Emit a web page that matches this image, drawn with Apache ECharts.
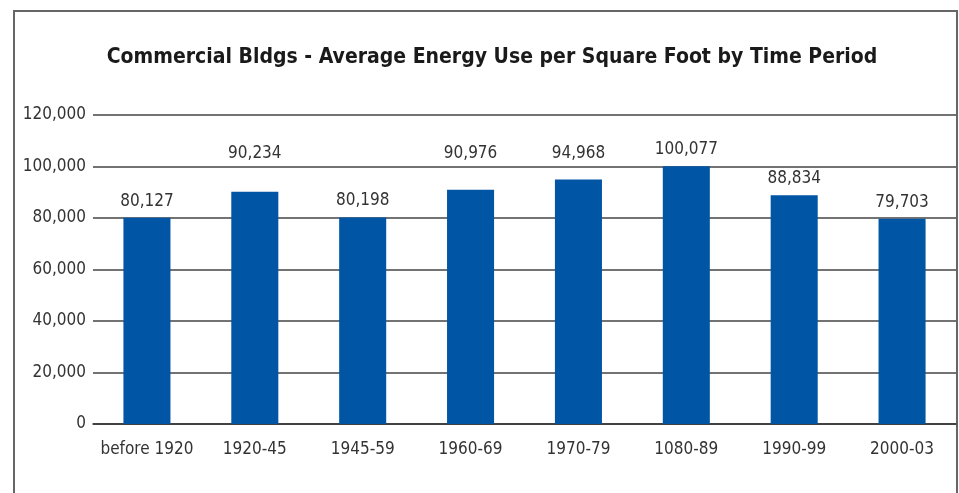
<!DOCTYPE html>
<html><head><meta charset="utf-8">
<script src="https://cdn.jsdelivr.net/npm/echarts@6/dist/echarts.min.js"></script>
<style>html,body{margin:0;padding:0;background:#fff}#c{width:959px;height:493px}</style>
</head><body><div id="c"></div>
<script>
const categories = ['before 1920','1920-45','1945-59','1960-69','1970-79','1080-89','1990-99','2000-03'];
const values = [80127, 90234, 80198, 90976, 94968, 100077, 88834, 79703];
const yTicks = [0, 20000, 40000, 60000, 80000, 100000, 120000];
const titleText = 'Commercial Bldgs - Average Energy Use per Square Foot by Time Period';

const font = '"DejaVu Sans Condensed","DejaVu Sans",sans-serif';
const chart = echarts.init(document.getElementById('c'), null, {renderer:'canvas'});
const fmt = v => v.toLocaleString('en-US');
const baseDist = 8;
chart.setOption({
  animation:false,
  title:{text:titleText,left:487,top:42,textAlign:'center',
    textStyle:{fontFamily:font,fontWeight:'bold',fontSize:21,color:'#1a1a1a'}},
  graphic:[{type:'polyline',shape:{points:[[14,493],[14,11],[957,11],[957,493]]},
    style:{stroke:'#666',lineWidth:2,fill:null}}],
  grid:{left:93,right:3,top:115,bottom:69,containLabel:false},
  xAxis:{type:'category',data:categories,
    axisLine:{show:true,lineStyle:{color:'#333',width:1.5}},
    axisTick:{show:false},
    axisLabel:{interval:0,fontFamily:font,fontSize:17,color:'#333',margin:17}},
  yAxis:{type:'value',min:yTicks[0],max:yTicks[yTicks.length-1],interval:20000,
    axisLine:{show:false},axisTick:{show:false},
    splitLine:{lineStyle:{color:'#444',width:1.5}},
    axisLabel:{fontFamily:font,fontSize:17,color:'#333',margin:7,formatter:v=>fmt(v)}},
  series:[{type:'bar',data:values,barWidth:'43.6%',
    itemStyle:{color:'#0055a5'},
    label:{show:true,position:'top',distance:baseDist,fontFamily:font,fontSize:17,color:'#333',
      formatter:p=>fmt(p.value)}}]
});
// move value labels that would sit on a gridline to just above that line
const gridYs = yTicks.map(t => chart.convertToPixel({yAxisIndex:0}, t));
const itemData = values.map((v, i) => {
  const top = chart.convertToPixel({yAxisIndex:0}, v);
  let dist = baseDist;
  for (const gy of gridYs) {
    if (gy < top - 1 && gy > top - 26) { dist = top - gy + 4; }
  }
  return {value:v, label:{distance:dist}};
});
chart.setOption({series:[{data:itemData}]});
</script></body></html>
